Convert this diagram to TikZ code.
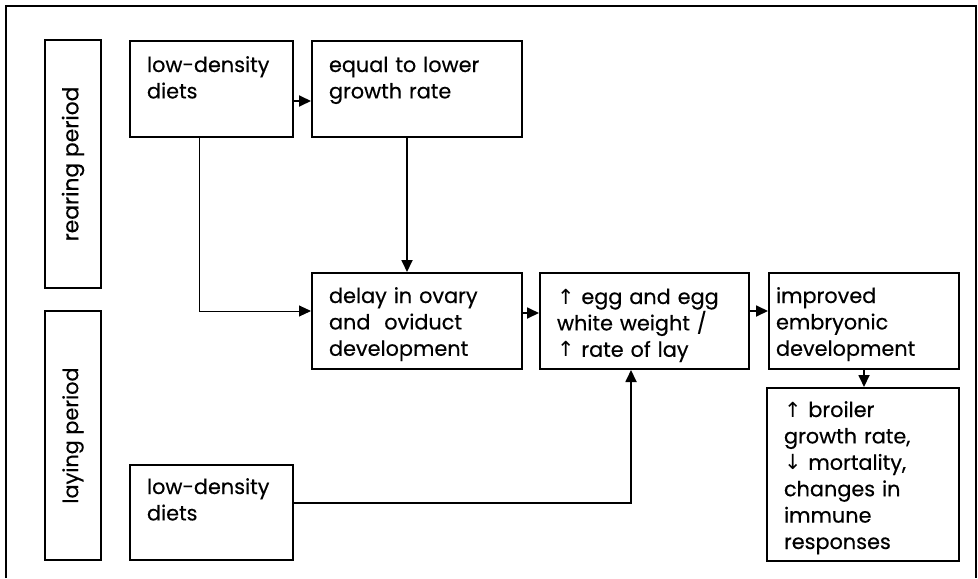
\documentclass[tikz,border=0pt]{standalone}
\usepackage{fontspec}
\setmainfont{Poppins}[FakeBold=0.4]
\newfontfamily\arrowfont{DejaVu Sans}
\usetikzlibrary{arrows.meta, positioning, calc}
\newcommand{\incr}{{\arrowfont ↑}}
\newcommand{\decr}{{\arrowfont ↓}}

\begin{document}
\begin{tikzpicture}[x=1pt, y=1pt,
  box/.style={draw, line width=1pt, anchor=north west, align=left, inner sep=0pt,
    text height=15.5pt, execute at begin node={\leftskip=8.5pt},
    font=\fontsize{10.4}{13.2}\selectfont},
  period/.style={draw, line width=1pt, rotate=90, minimum height=28pt, inner sep=0pt,
    font=\fontsize{10.4}{12}\selectfont},
  link/.style={-{Triangle[length=6pt, width=5.5pt]}, line width=0.9pt}]
  \useasboundingbox (0,0) rectangle (489,-289);
  \draw[line width=0.9pt] (3,-289) -- (3,-3) -- (488,-3) -- (488,-289);

  \node[period, minimum width=124pt, font=\fontsize{10.9}{12}\selectfont] (rearing) at (36.5,-82) {rearing period};
  \node[period, minimum width=124.5pt] (laying) at (36.5,-217.75) {laying period};

  \node[box, text width=81.5pt, text depth=32.5pt] (lowrear) at (64.5,-20) {low-density\\diets};
  \node[box, text width=105pt, text depth=32.5pt] (growth) at (155.5,-20) {equal to lower\\growth rate};
  \node[box, text width=105pt, text depth=33pt, text height=15pt] (ovary) at (155.5,-136) {delay in ovary\\and~ oviduct\\development};
  \node[box, text width=104.5pt, text depth=32.5pt] (eggwt) at (269.5,-136) {\incr{} egg and egg\\white weight /\\\incr{} rate of lay};
  \node[box, text width=95pt, text depth=33pt, text height=15pt,
    execute at begin node={\leftskip=3.5pt}] (embryo) at (384,-136) {improved\\embryonic\\development};
  \node[box, text width=96pt, text depth=72pt, text height=14.5pt] (broiler) at (383,-193.5) {\incr{} broiler\\growth rate,\\\decr{} mortality,\\changes in\\immune\\responses};
  \node[box, text width=81.5pt, text depth=33pt, text height=14.5pt] (lowlay) at (64.5,-232) {low-density\\diets};

  \draw[link] ([yshift=-6pt]lowrear.east) -- ([yshift=-6pt]lowrear.east -| growth.west);
  \draw[link, line width=0.5pt] ([xshift=-6pt]lowrear.south) |- ([yshift=5pt]ovary.west);
  \draw[link] ([xshift=-5pt]growth.south) -- ([xshift=-5pt]growth.south |- ovary.north);
  \draw[link] ([yshift=4pt]ovary.east) -- ([yshift=4pt]ovary.east -| eggwt.west);
  \draw[link] ([yshift=5pt]eggwt.east) -- ([yshift=5pt]eggwt.east -| embryo.west);
  \draw[link] (embryo.south) -- (embryo.south |- broiler.north);
  \draw[link] ([yshift=4.75pt]lowlay.east) -| ([xshift=-6.75pt]eggwt.south);
\end{tikzpicture}
\end{document}
